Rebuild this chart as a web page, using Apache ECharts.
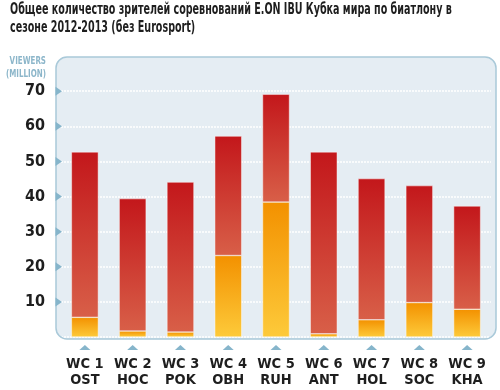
<!DOCTYPE html>
<html>
<head>
<meta charset="utf-8">
<script src="https://cdn.jsdelivr.net/npm/echarts@6/dist/echarts.min.js"></script>
<style>
html,body{margin:0;padding:0;background:#fff;}
#c{width:500px;height:390px;}
</style>
</head>
<body>
<div id="c"></div>
<script>
const categories = ['WC 1\nOST','WC 2\nHOC','WC 3\nPOK','WC 4\nOBH','WC 5\nRUH','WC 6\nANT','WC 7\nHOL','WC 8\nSOC','WC 9\nKHA'];
const totalViewers = [52.7, 39.4, 44.1, 57.2, 69.1, 52.7, 45.1, 43.1, 37.3];
const lowerPart = [5.6, 1.7, 1.4, 23.2, 38.4, 0.9, 4.9, 9.8, 7.9];
const yTicks = [10, 20, 30, 40, 50, 60, 70];
const titleText = 'Общее количество зрителей соревнований E.ON IBU Кубка мира по биатлону в\nсезоне 2012-2013 (без Eurosport)';
const axisTitle = 'VIEWERS\n(MILLION)';

const upperPart = totalViewers.map((t, i) => +(t - lowerPart[i]).toFixed(2));
const FONT = '"DejaVu Sans Condensed", "Liberation Sans Narrow", sans-serif';

const chart = echarts.init(document.getElementById('c'), null, {renderer: 'canvas'});

function grad(top, bottom) {
  return new echarts.graphic.LinearGradient(0, 0, 0, 1, [
    {offset: 0, color: top}, {offset: 1, color: bottom}
  ]);
}

chart.setOption({
  animation: false,
  grid: {left: 61, right: 9, top: 56, bottom: 53},
  xAxis: {
    type: 'category',
    data: categories,
    axisLine: {show: false},
    axisTick: {show: false},
    axisLabel: {
      interval: 0,
      margin: 19,
      fontFamily: FONT, fontWeight: 'bold', fontSize: 14.5, lineHeight: 16, color: '#1e1e1e'
    }
  },
  yAxis: {
    type: 'value',
    min: 0, max: 80, interval: 10,
    axisLine: {show: false},
    axisTick: {show: false},
    axisLabel: {
      margin: 16,
      fontFamily: FONT, fontWeight: 'bold', fontSize: 16, color: '#1e1e1e',
      formatter: v => yTicks.indexOf(v) >= 0 ? String(v) : ''
    },
    splitLine: {lineStyle: {color: '#ffffff', width: 1.5, type: [2, 1]}}
  },
  series: [
    {
      type: 'bar', stack: 'v', barWidth: 27,
      data: lowerPart,
      itemStyle: {color: grad('#f39100', '#fdca3a'), borderColor: 'rgba(255,255,255,0.5)', borderWidth: 0.5}
    },
    {
      type: 'bar', stack: 'v', barWidth: 27,
      data: upperPart,
      itemStyle: {color: grad('#c3171b', '#d85f48'), borderColor: 'rgba(255,255,255,0.5)', borderWidth: 0.5}
    }
  ]
});

const rect = chart.getModel().getComponent('grid', 0).coordinateSystem.getRect();
const x0 = rect.x - 5, y0 = rect.y + 1, w = rect.width + 10, h = rect.height + 1;
const elements = [
  {type: 'rect', z: -10, shape: {x: x0, y: y0, width: w, height: h, r: 11},
   style: {fill: '#e5edf3', stroke: null}},
  {type: 'rect', z: 100, shape: {x: x0, y: y0, width: w, height: h, r: 11},
   style: {fill: null, stroke: '#a9c9d9', lineWidth: 1.5}},
  {type: 'text', z: 100, x: 10, y: 1, scaleX: 0.665, scaleY: 1,
   style: {x: 0, y: 0, text: titleText, align: 'left', verticalAlign: 'top',
    fontFamily: FONT, fontWeight: 'bold', fontSize: 16, lineHeight: 18, fill: '#1e1e1e'}},
  {type: 'text', z: 100, x: 46, y: 55, scaleX: 0.72, scaleY: 1,
   style: {x: 0, y: 0, text: axisTitle, align: 'right', verticalAlign: 'top',
    fontFamily: FONT, fontWeight: 'bold', fontSize: 11, lineHeight: 12.5, fill: '#8cb6ca'}}
];
yTicks.forEach(v => {
  const py = chart.convertToPixel({yAxisIndex: 0}, v);
  elements.push({type: 'polygon', z: 100, shape: {points: [[x0 - 0.5, py - 4.5], [x0 + 6, py], [x0 - 0.5, py + 4.5]]},
    style: {fill: '#86b5cb'}});
});
categories.forEach((c, i) => {
  const px = chart.convertToPixel({xAxisIndex: 0}, i);
  const by = rect.y + rect.height;
  elements.push({type: 'polygon', z: 100, shape: {points: [[px - 5.5, by + 13], [px, by + 8], [px + 5.5, by + 13]]},
    style: {fill: '#86b5cb'}});
});
chart.setOption({graphic: {elements: elements}});
</script>
</body>
</html>
